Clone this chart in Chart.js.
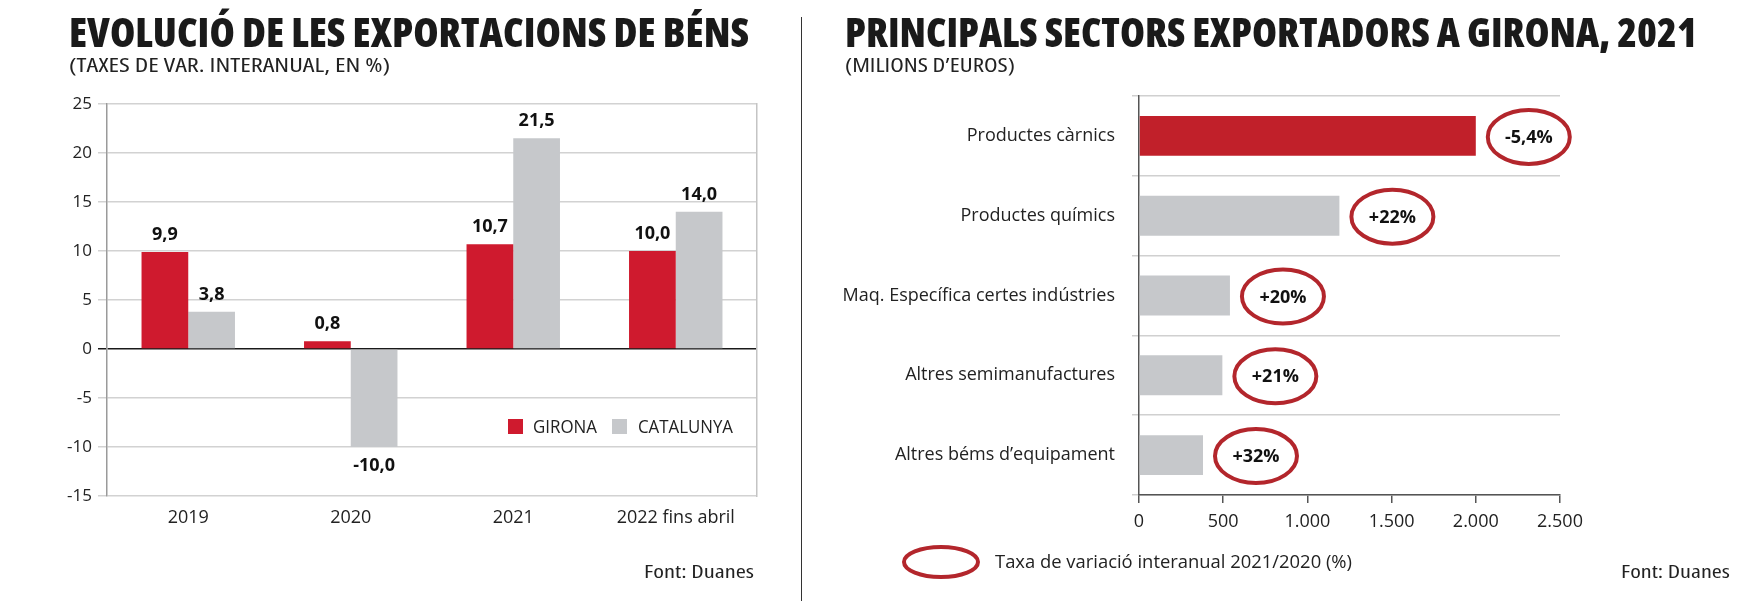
<!DOCTYPE html>
<html>
<head>
<meta charset="utf-8">
<script src="https://cdn.jsdelivr.net/npm/chart.js@4.4.1/dist/chart.umd.min.js"></script>
<style>
  body { margin:0; background:#fff; width:1739px; height:601px; overflow:hidden; position:relative; font-family:'Open Sans', sans-serif; color:#1a1a1a; }
  .txt { position:absolute; white-space:nowrap; transform-origin:0 0; line-height:1; }
  .headline { font-weight:800; font-size:40px; font-stretch:condensed; }
  .sub { font-size:20px; font-stretch:condensed; color:#222; }
  .src { font-size:18px; font-stretch:condensed; color:#222; }
  #sep { position:absolute; left:801px; top:17px; width:1px; height:584px; background:#333; }
  #leftChart { position:absolute; left:0; top:0; }
  #rightChart { position:absolute; left:800px; top:0; }
</style>
</head>
<body>
<canvas id="leftChart" width="800" height="601"></canvas>
<canvas id="rightChart" width="939" height="601"></canvas>
<div id="sep"></div>

<div class="txt headline" id="t1">EVOLUCIÓ DE LES EXPORTACIONS DE BÉNS</div>
<div class="txt sub" id="s1">(TAXES DE VAR. INTERANUAL, EN %)</div>
<div class="txt src" id="f1">Font: Duanes</div>
<div class="txt headline" id="t2">PRINCIPALS SECTORS EXPORTADORS A GIRONA, 2021</div>
<div class="txt sub" id="s2">(MILIONS D’EUROS)</div>
<div class="txt src" id="f2">Font: Duanes</div>

<script>
// left chart data
const years = ['2019', '2020', '2021', '2022 fins abril'];
const gironaValues = [9.9, 0.8, 10.7, 10.0];
const catalunyaValues = [3.8, -10.0, 21.5, 14.0];
const seriesNames = ['GIRONA', 'CATALUNYA'];
const yMin = -15, yMax = 25, yStep = 5;

// right chart data
const sectors = ['Productes càrnics', 'Productes químics', 'Maq. Específica certes indústries', 'Altres semimanufactures', 'Altres béms d’equipament'];
const sectorValues = [2000, 1190, 540, 495, 380];
const sectorChange = ['-5,4%', '+22%', '+20%', '+21%', '+32%'];
const xMax = 2500, xStep = 500;
const changeLegend = 'Taxa de variació interanual 2021/2020 (%)';

const FONT = "'Open Sans', sans-serif";
Chart.defaults.font.family = FONT;
Chart.defaults.color = '#222';

const redLeft = '#cf1a2e';
const redRight = '#c1202a';
const grey = '#c6c8cb';
const ring = '#b3262c';

// place html text by baseline and squeeze to the width of the original
function fitText(id, x, baseline, width) {
  const el = document.getElementById(id);
  const fs = parseFloat(getComputedStyle(el).fontSize);
  el.style.left = x + 'px';
  el.style.top = (baseline - 0.888 * fs) + 'px';
  const w = el.getBoundingClientRect().width;
  el.style.transform = 'scaleX(' + (width / w) + ')';
}
fitText('t1', 69, 48, 680);
fitText('s1', 69, 73, 321);
fitText('f1', 644, 578, 110);
fitText('t2', 845, 48, 852);
fitText('s2', 845, 73, 170);
fitText('f2', 1621, 578, 109);

// value labels over the bars
const barValues = {
  id: 'barValues',
  afterDatasetsDraw(chart) {
    const ctx = chart.ctx;
    ctx.save();
    ctx.font = 'bold 18px ' + FONT;
    ctx.fillStyle = '#111';
    ctx.textAlign = 'center';
    ctx.textBaseline = 'alphabetic';
    chart.data.datasets.forEach((ds, di) => {
      chart.getDatasetMeta(di).data.forEach((bar, i) => {
        const v = ds.data[i];
        const txt = v.toFixed(1).replace('.', ',');
        if (v >= 0) ctx.fillText(txt, bar.x, bar.y - 12);
        else ctx.fillText(txt, bar.x, bar.y + 24);
      });
    });
    ctx.restore();
  }
};

// legend inside the plot (left)
const leftLegend = {
  id: 'leftLegend',
  afterDraw(chart) {
    const ctx = chart.ctx;
    const items = [
      { x: 508, tx: 533, w: 64 },
      { x: 612, tx: 638, w: 95 }
    ];
    ctx.save();
    ctx.font = '19px ' + FONT;
    ctx.textBaseline = 'middle';
    ctx.textAlign = 'left';
    chart.data.datasets.forEach((ds, i) => {
      const it = items[i];
      ctx.fillStyle = ds.backgroundColor;
      ctx.fillRect(it.x, 419, 15, 15);
      ctx.fillStyle = '#222';
      ctx.fillText(ds.label, it.tx, 428, it.w);
    });
    ctx.restore();
  }
};

new Chart(document.getElementById('leftChart'), {
  type: 'bar',
  data: {
    labels: years,
    datasets: [
      { label: seriesNames[0], data: gironaValues, backgroundColor: redLeft },
      { label: seriesNames[1], data: catalunyaValues, backgroundColor: grey }
    ]
  },
  options: {
    responsive: false,
    animation: false,
    layout: { padding: { top: 104, left: 0, right: 43, bottom: 65 } },
    datasets: { bar: { categoryPercentage: 0.575, barPercentage: 1 } },
    plugins: { legend: { display: false }, tooltip: { enabled: false } },
    scales: {
      x: {
        grid: { display: false, drawTicks: false },
        border: { display: false },
        ticks: { color: '#222', font: { size: 18 }, padding: 11 },
        afterFit: s => { s.height = 40; }
      },
      y: {
        min: yMin, max: yMax,
        ticks: { stepSize: yStep, color: '#222', font: { size: 17 }, padding: 6 },
        grid: {
          color: c => c.tick && c.tick.value === 0 ? '#1a1a1a' : '#d2d2d2',
          lineWidth: 1.5,
          tickLength: 9
        },
        border: { color: '#9a9a9a', width: 1.5 },
        afterFit: s => { s.width = 107; }
      },
      y2: {
        position: 'right',
        grid: { display: false },
        ticks: { display: false },
        border: { color: '#c4c4c4', width: 1.5 },
        afterFit: s => { s.width = 0; }
      }
    }
  },
  plugins: [barValues, leftLegend]
});

// rings with the yearly change (right)
const changeRings = {
  id: 'changeRings',
  afterDatasetsDraw(chart) {
    const ctx = chart.ctx;
    const meta = chart.getDatasetMeta(0);
    ctx.save();
    meta.data.forEach((bar, i) => {
      const cx = bar.x + 53, cy = bar.y + 1;
      ctx.beginPath();
      ctx.ellipse(cx, cy, 41, 27, 0, 0, Math.PI * 2);
      ctx.lineWidth = 4;
      ctx.strokeStyle = ring;
      ctx.stroke();
      ctx.fillStyle = '#111';
      ctx.font = 'bold 18px ' + FONT;
      ctx.textAlign = 'center';
      ctx.textBaseline = 'middle';
      ctx.fillText(sectorChange[i], cx, cy + 1, 54);
    });
    // legend
    ctx.beginPath();
    ctx.ellipse(141, 562, 37, 15, 0, 0, Math.PI * 2);
    ctx.lineWidth = 4;
    ctx.strokeStyle = ring;
    ctx.stroke();
    ctx.fillStyle = '#222';
    ctx.font = '19px ' + FONT;
    ctx.textAlign = 'left';
    ctx.textBaseline = 'middle';
    ctx.fillText(changeLegend, 195, 563, 357);
    ctx.restore();
  }
};

function thousands(v) {
  return String(v).replace(/\B(?=(\d{3})+(?!\d))/g, '.');
}

new Chart(document.getElementById('rightChart'), {
  type: 'bar',
  data: {
    labels: sectors,
    datasets: [{
      data: sectorValues,
      backgroundColor: sectorValues.map((v, i) => i === 0 ? redRight : grey)
    }]
  },
  options: {
    indexAxis: 'y',
    responsive: false,
    animation: false,
    layout: { padding: { top: 96, left: 0, right: 179, bottom: 62 } },
    datasets: { bar: { categoryPercentage: 0.5, barPercentage: 1 } },
    plugins: { legend: { display: false }, tooltip: { enabled: false } },
    scales: {
      x: {
        min: 0, max: xMax,
        ticks: { stepSize: xStep, callback: v => thousands(v), color: '#222', font: { size: 18 }, padding: 8 },
        grid: { drawOnChartArea: false, color: '#555', lineWidth: 1.5, tickLength: 8 },
        border: { color: '#555', width: 1.5 },
        afterFit: s => { s.height = 44; }
      },
      y: {
        grid: { offset: true, color: '#d0d0d0', lineWidth: 1.5, tickLength: 7 },
        border: { color: '#555', width: 1.5 },
        ticks: { color: '#222', font: { size: 18 }, padding: 17 },
        afterFit: s => { s.width = 339; }
      }
    }
  },
  plugins: [changeRings]
});
</script>
</body>
</html>
